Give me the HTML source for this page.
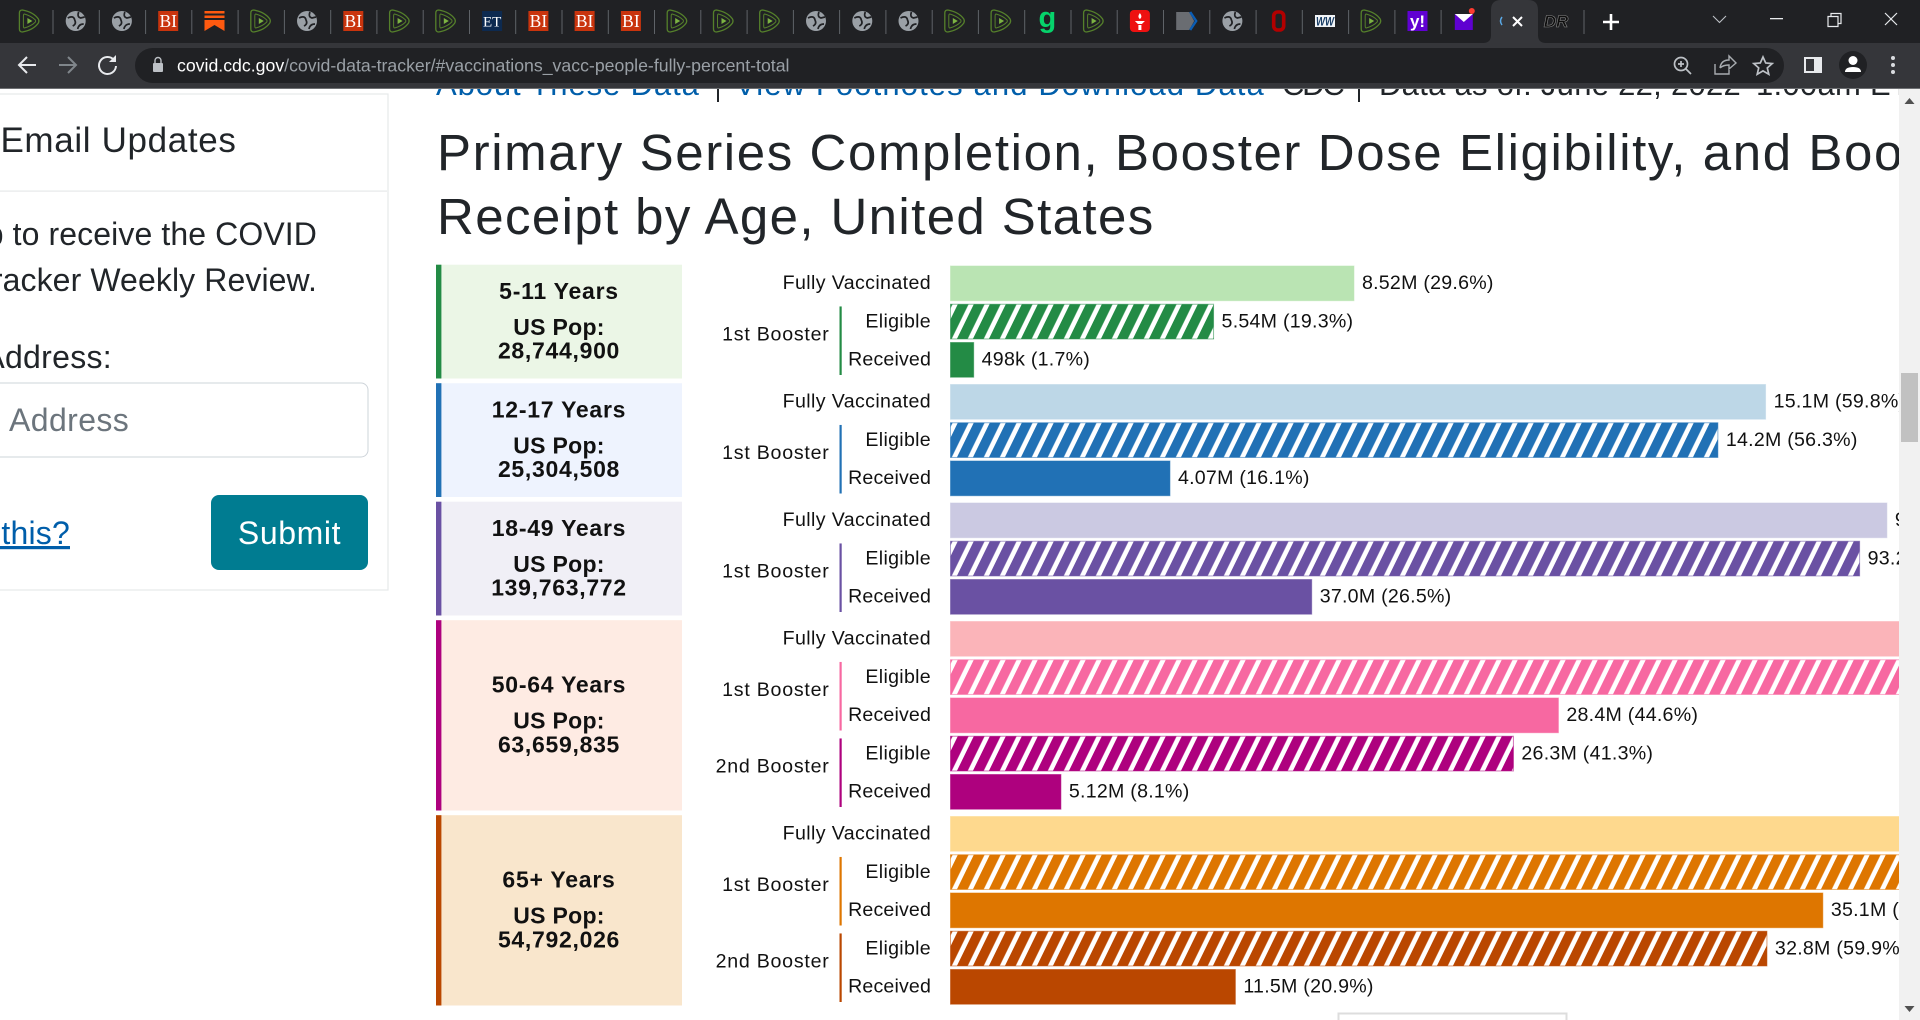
<!DOCTYPE html>
<html lang="en">
<head>
<meta charset="utf-8">
<title>Primary Series Completion, Booster Dose Eligibility, and Booster Dose Receipt by Age, United States</title>
<style>
html,body{margin:0;padding:0;background:#fff;width:1920px;height:1020px;overflow:hidden}
svg{display:block;font-family:"Liberation Sans",sans-serif}
</style>
</head>
<body>
<svg id="root" xmlns="http://www.w3.org/2000/svg" width="1920" height="1020" viewBox="0 0 1920 1020">
  <defs>
    <clipPath id="page-clip"><rect x="0" y="88" width="1899" height="932"/></clipPath>
  </defs>
  <rect x="0" y="0" width="1920" height="1020" fill="#fff"/>

  <g clip-path="url(#page-clip)">
    <g id="top-links" font-size="31">
      <text x="436" y="95" fill="#005EAA" letter-spacing="0.9">About These Data</text>
      <rect x="717" y="70" width="2" height="32" fill="#212529"/>
      <text x="735" y="95" fill="#005EAA" letter-spacing="1.12">View Footnotes and Download Data</text>
      <text x="1282" y="95" fill="#212529" letter-spacing="-2.2">CDC</text>
      <rect x="1358" y="70" width="2" height="32" fill="#212529"/>
      <text x="1379" y="95" fill="#212529" letter-spacing="0.28">Data as of: June 22, 2022</text>
      <text x="1756" y="95" fill="#212529" letter-spacing="0.28">1:00am ET</text>
    </g>

    <g>
      <rect x="-10" y="94" width="398" height="496" fill="#fff" stroke="#e6e8ea" stroke-width="1.2"/>
      <rect x="0" y="190.5" width="387" height="1.2" fill="#e6e8ea"/>
      <text x="236.5" y="152" font-size="35" text-anchor="end" fill="#212529" letter-spacing="0.65">Email Updates</text>
      <text x="317" y="245" font-size="32" text-anchor="end" fill="#212529" letter-spacing="0.1">Sign up to receive the COVID</text>
      <text x="317" y="291" font-size="32" text-anchor="end" fill="#212529" letter-spacing="0.1">Data Tracker Weekly Review.</text>
      <text x="112" y="368" font-size="32" text-anchor="end" fill="#212529" letter-spacing="0.3">Email Address:</text>
      <rect x="-20" y="383" width="388" height="74" rx="7" fill="#fff" stroke="#ced4da" stroke-width="1"/>
      <text x="9" y="431" font-size="32" fill="#6c757d" letter-spacing="0.4">Address</text>
      <text x="70" y="544" font-size="32" text-anchor="end" fill="#005EAA" letter-spacing="0.2" text-decoration="underline">Why this?</text>
      <rect x="211" y="495" width="157" height="75" rx="8" fill="#007C91"/>
      <text x="289.5" y="544" font-size="32" text-anchor="middle" fill="#fff" letter-spacing="0.6">Submit</text>
    </g>

    <text x="437" y="170" font-size="51" fill="#212529" letter-spacing="1.6">Primary Series Completion, Booster Dose Eligibility, and Booster Dose</text>
    <text x="437" y="234" font-size="51" fill="#212529" letter-spacing="1.38">Receipt by Age, United States</text>

    <g id="chart"></g>

    <rect x="1338.5" y="1013.5" width="228" height="40" fill="#fff" stroke="#ddd" stroke-width="2"/>
  </g>

  <g>
    <rect x="1899" y="88" width="21" height="932" fill="#f1f1f1"/>
    <rect x="1901" y="373" width="17" height="69" fill="#c1c1c1"/>
    <path d="M1909.5 98 l5 6 h-10 z" fill="#505050"/>
    <path d="M1909.5 1012 l5 -6 h-10 z" fill="#505050"/>
  </g>

  <g>
    <rect x="0" y="0" width="1920" height="43" fill="#202124"/>
    <rect x="0" y="43" width="1920" height="45" fill="#35363a"/>
    <rect x="0" y="88" width="1920" height="1" fill="#6e7073"/>
    <g id="tabs"></g>
    <path d="M1483 43 q8 0 8 -8 v-25 q0 -10 10 -10 h27 q10 0 10 10 v25 q0 8 8 8 z" fill="#35363a"/>
    <path d="M1502 17 q-3 4 0 8" fill="none" stroke="#5aa9e6" stroke-width="1.5"/>
    <path d="M1513 17 l9 9 M1522 17 l-9 9" stroke="#fff" stroke-width="2"/>
    <rect x="1583.5" y="10" width="1" height="24" fill="#5f6368"/>
    <path d="M1611 14 v16 M1603 22 h16" stroke="#fff" stroke-width="2.6"/>
    <path d="M1713 16 l6.5 6.5 l6.5 -6.5" fill="none" stroke="#bdc1c6" stroke-width="1.1"/>
    <rect x="1770" y="18" width="13" height="1.3" fill="#e8eaed"/>
    <path d="M1828 16.5 h10 v10 h-10 z M1831 16.5 v-3 h10 v10 h-3" fill="none" stroke="#e8eaed" stroke-width="1.2"/>
    <path d="M1885 13 l12 12 M1897 13 l-12 12" stroke="#e8eaed" stroke-width="1.2"/>

    <path d="M36 65 h-16 M27 57 l-8 8 l8 8" fill="none" stroke="#e8eaed" stroke-width="2"/>
    <path d="M59 65 h16 M68 57 l8 8 l-8 8" fill="none" stroke="#80868b" stroke-width="2"/>
    <path d="M114 60 a8.5 8.5 0 1 0 2 6" fill="none" stroke="#e8eaed" stroke-width="2"/>
    <path d="M116 55 v7 h-7 z" fill="#e8eaed"/>
    <rect x="135" y="48" width="1649" height="35" rx="17.5" fill="#202124"/>
    <rect x="153" y="63" width="10" height="9" rx="1" fill="#bdc1c6"/>
    <path d="M155 63 v-2.5 a3 3 0 0 1 6 0 v2.5" fill="none" stroke="#bdc1c6" stroke-width="1.4"/>
    <text x="177" y="71.5" font-size="17.7" fill="#9aa0a6"><tspan fill="#fff">covid.cdc.gov</tspan>/covid-data-tracker/#vaccinations_vacc-people-fully-percent-total</text>

    <circle cx="1681" cy="64" r="6.5" fill="none" stroke="#bdc1c6" stroke-width="1.7"/>
    <path d="M1686 69 l5 5 M1678 64 h6 M1681 61 v6" stroke="#bdc1c6" stroke-width="1.7"/>
    <path d="M1715 64 v10 h14 v-4 M1720 68 q1 -8 9 -8 v-4 l7 7 l-7 6 v-4 q-6 0 -9 3" fill="none" stroke="#a8acb0" stroke-width="1.4"/>
    <path d="M1763 57 l2.7 6 l6.5 .6 l-4.9 4.3 l1.5 6.4 l-5.8 -3.4 l-5.8 3.4 l1.5 -6.4 l-4.9 -4.3 l6.5 -.6 z" fill="none" stroke="#bdc1c6" stroke-width="1.7"/>
    <rect x="1804" y="57" width="18" height="16" fill="#e8eaed"/>
    <rect x="1806" y="59" width="8" height="12" fill="#35363a"/>
    <circle cx="1853" cy="65" r="14" fill="#202124"/>
    <circle cx="1853" cy="60.5" r="4.5" fill="#fff"/>
    <path d="M1845 72 q0 -5 8 -5 q8 0 8 5 z" fill="#fff"/>
    <g fill="#dadce0">
      <circle cx="1893" cy="58" r="2"/><circle cx="1893" cy="65" r="2"/><circle cx="1893" cy="72" r="2"/>
    </g>
  </g>
</svg>

<script>
/* ---------- chart data ---------- */
const ageGroups = ['5-11 Years', '12-17 Years', '18-49 Years', '50-64 Years', '65+ Years'];
const populations = ['28,744,900', '25,304,508', '139,763,772', '63,659,835', '54,792,026'];

const fullyVaccinatedPct = [29.6, 59.8, 68.7, 82.6, 89.3];
const fullyVaccinatedCount = ['8.52M', '15.1M', '96.0M', '52.6M', '48.9M'];

const booster1EligiblePct = [19.3, 56.3, 66.7, 79.5, 85.2];
const booster1EligibleCount = ['5.54M', '14.2M', '93.2M', '50.6M', '46.7M'];

const booster1ReceivedPct = [1.7, 16.1, 26.5, 44.6, 64.0];
const booster1ReceivedCount = ['498k', '4.07M', '37.0M', '28.4M', '35.1M'];

const booster2EligiblePct = [null, null, null, 41.3, 59.9];
const booster2EligibleCount = [null, null, null, '26.3M', '32.8M'];

const booster2ReceivedPct = [null, null, null, 8.1, 20.9];
const booster2ReceivedCount = [null, null, null, '5.12M', '11.5M'];

const tabIconKinds = ['play','globe','globe','bi','ribbon','play','globe','bi','play','play','et','bi','bi','bi','play','play','play','globe','globe','globe','play','play','g','play','torch','shield','globe','o','ww','play','yahoo','mail'];

/* ---------- appearance ---------- */
const panelFills = ['#EBF6E6', '#EEF3FE', '#F0EFF6', '#FEEBE3', '#F9E6CC'];
const sideColors = ['#238B45', '#2171B5', '#6A51A3', '#AE017E', '#BA4700'];
const lightColors = ['#BAE4B3', '#BDD7E7', '#CBC9E2', '#FBB4B9', '#FED98E'];
const booster1Colors = ['#238B45', '#2171B5', '#6A51A3', '#F768A1', '#DE7600'];
const booster2Colors = ['#238B45', '#2171B5', '#6A51A3', '#AE017E', '#BA4700'];

const SVG_NS = 'http://www.w3.org/2000/svg';
const chart = document.getElementById('chart');
const defs = document.querySelector('#root defs');

/* ---------- axis functions ---------- */
const BAR_ZERO_X = 950.5;
const PX_PER_PERCENT = 13.63;
const FIRST_ROW_Y = 266;
const ROW_STEP = 38.25;
const GROUP_EXTRA = 3.75;
const BAR_HEIGHT = 34.7;
function xScale(pct) { return BAR_ZERO_X + pct * PX_PER_PERCENT; }
function rowTop(rowsBefore, groupsBefore) { return FIRST_ROW_Y + rowsBefore * ROW_STEP + groupsBefore * GROUP_EXTRA; }

function mk(tag, attrs, parent) {
  const el = document.createElementNS(SVG_NS, tag);
  for (const k in attrs) el.setAttribute(k, attrs[k]);
  (parent || chart).appendChild(el);
  return el;
}
function hatchFor(color, id, barTop) {
  const p = mk('pattern', { id: id, patternUnits: 'userSpaceOnUse', width: 16, height: 12, patternTransform: 'translate(957.8 ' + barTop + ') skewX(-26)' }, defs);
  mk('rect', { x: 0, y: 0, width: 16, height: 12, fill: '#fff' }, p);
  mk('rect', { x: 0, y: 0, width: 10.8, height: 12, fill: color }, p);
  return 'url(#' + id + ')';
}
function label(str, x, y, anchor, ls, name, size, weight, parent) {
  const t = mk('text', { x: x, y: y, 'text-anchor': anchor, 'font-size': size || 19.6, 'letter-spacing': ls, fill: '#111' }, parent);
  if (weight) t.setAttribute('font-weight', weight);
  
  
  t.textContent = str;
  return t;
}
function drawBar(pct, count, y, fill, edge, rowName, rowText, labelSpacing, slug) {
  const bar = mk('rect', { x: xScale(0), y: y, width: xScale(pct) - xScale(0), height: BAR_HEIGHT, fill: fill, stroke: edge, 'stroke-width': 1, 'stroke-opacity': 0.55 });
  
  
  label(rowText, 931, y + 23.1, 'end', labelSpacing, 'row-label-' + slug + '-' + rowName);
  label(count + ' (' + pct.toFixed(1) + '%)', xScale(pct) + 8, y + 23.1, 'start', 0.25, 'value-label-' + slug + '-' + rowName);
}
function drawBoosterGroup(title, y, color, slug, rowBase) {
  const bottom = y + ROW_STEP + BAR_HEIGHT;
  const rule = mk('rect', { x: 839.5, y: y + 2.2, width: 2.2, height: bottom - y - 4.4, fill: color });
  
  
  label(title, 829.5, (y + bottom) / 2 - 0.3, 'end', 0.75, 'group-label-' + slug + '-' + rowBase);
}

/* ---------- draw chart ---------- */
let rowsBefore = 0;
ageGroups.forEach(function (group, g) {
  const slug = group.split(' ')[0].replace('+', '-plus');
  const hasSecond = booster2EligiblePct[g] !== null;
  const rowCount = hasSecond ? 5 : 3;
  const top = rowTop(rowsBefore, g);
  const lastBottom = rowTop(rowsBefore + rowCount - 1, g) + BAR_HEIGHT;
  const panelTop = top - 1.3;
  const panelBottom = lastBottom + 1.3;
  const mid = (panelTop + panelBottom) / 2;

  const panel = mk('rect', { x: 436, y: panelTop, width: 246, height: panelBottom - panelTop, fill: panelFills[g] });
  
  
  const side = mk('rect', { x: 436, y: panelTop, width: 5.4, height: panelBottom - panelTop, fill: sideColors[g] });
  
  
  label(group, 559, mid - 22.8, 'middle', 0.75, 'age-title-' + slug, 23, 'bold');
  label('US Pop:', 559, mid + 13.3, 'middle', 0.3, 'pop-label-' + slug, 23, 'bold');
  label(populations[g], 559, mid + 37, 'middle', 0.7, 'pop-value-' + slug, 23, 'bold');

  drawBar(fullyVaccinatedPct[g], fullyVaccinatedCount[g], top, lightColors[g], lightColors[g], 'fully-vaccinated', 'Fully Vaccinated', 0.38, slug);

  const b1y = rowTop(rowsBefore + 1, g);
  drawBar(booster1EligiblePct[g], booster1EligibleCount[g], b1y, hatchFor(booster1Colors[g], 'hatch-b1-' + g, b1y), booster1Colors[g], 'booster1-eligible', 'Eligible', 0.3, slug);
  drawBar(booster1ReceivedPct[g], booster1ReceivedCount[g], rowTop(rowsBefore + 2, g), booster1Colors[g], booster1Colors[g], 'booster1-received', 'Received', 0.15, slug);
  drawBoosterGroup('1st Booster', b1y, booster1Colors[g], slug, 'booster1');

  if (hasSecond) {
    const b2y = rowTop(rowsBefore + 3, g);
    drawBar(booster2EligiblePct[g], booster2EligibleCount[g], b2y, hatchFor(booster2Colors[g], 'hatch-b2-' + g, b2y), booster2Colors[g], 'booster2-eligible', 'Eligible', 0.3, slug);
    drawBar(booster2ReceivedPct[g], booster2ReceivedCount[g], rowTop(rowsBefore + 4, g), booster2Colors[g], booster2Colors[g], 'booster2-received', 'Received', 0.15, slug);
    drawBoosterGroup('2nd Booster', b2y, booster2Colors[g], slug, 'booster2');
  }
  rowsBefore += rowCount;
});

/* ---------- tab strip icons ---------- */
const tabs = document.getElementById('tabs');
const TAB_X0 = 29.4;
const TAB_STEP = 46.27;
function tabText(str, attrs, parent) {
  const t = mk('text', Object.assign({ 'text-anchor': 'middle' }, attrs), parent);
  t.textContent = str;
  return t;
}
function drawIcon(kind, g) {
  if (kind === 'play') {
    mk('path', { d: 'M-7 -11 Q-10 -11 -10 -8 L-10 8 Q-10 11 -7 11 Q4 9 9 2 Q10 0 9 -2 Q4 -9 -7 -11 Z', fill: 'none', stroke: '#55802b', 'stroke-width': 1.3 }, g);
    mk('path', { d: 'M-5 -7 Q-6 -7 -6 -5 L-6 5 Q-6 7 -5 7 Q2 5 6 1 Q6.5 0 6 -1 Q2 -5 -5 -7 Z', fill: 'none', stroke: '#55802b', 'stroke-width': 1 }, g);
    mk('path', { d: 'M-2 -3 L3 0 L-2 3 Z', fill: '#7cb342' }, g);
  } else if (kind === 'globe') {
    mk('circle', { r: 10, fill: '#9aa0a6' }, g);
    mk('path', { d: 'M-8 -3 Q-2 -6 -1 -1 Q1 3 -3 5 M3 -9 Q1 -4 5 -3 L9 -4 M2 8 Q3 3 8 3', fill: 'none', stroke: '#202124', 'stroke-width': 1.7 }, g);
  } else if (kind === 'bi') {
    mk('rect', { x: -10, y: -10, width: 20, height: 20, fill: '#c9340d' }, g);
    tabText('BI', { y: 6, 'font-size': 17.5, 'font-family': '"Liberation Serif",serif', fill: '#fff' }, g);
  } else if (kind === 'ribbon') {
    mk('rect', { x: -10, y: -10, width: 20, height: 2.5, fill: '#ff5a10' }, g);
    mk('rect', { x: -10, y: -5.5, width: 20, height: 2.5, fill: '#ff5a10' }, g);
    mk('path', { d: 'M-10 -1 H10 V10 L0 4 L-10 10 Z', fill: '#ff5a10' }, g);
  } else if (kind === 'et') {
    mk('rect', { x: -10, y: -10, width: 20, height: 20, fill: '#0d2a50' }, g);
    tabText('ET', { y: 5.5, 'font-size': 15, 'font-family': '"Liberation Serif",serif', fill: '#fff' }, g);
  } else if (kind === 'g') {
    tabText('g', { y: 6, 'font-size': 29, 'font-weight': 'bold', fill: '#06d36b' }, g);
  } else if (kind === 'torch') {
    mk('rect', { x: -10, y: -11, width: 20, height: 22, rx: 4, fill: '#ee1111' }, g);
    mk('path', { d: 'M0 -8 Q3 -4 0 -2 Q-3 -4 0 -8 Z M-5 0 H5 L2 3 H-2 Z M-1.5 4 H1.5 V9 H-1.5 Z', fill: '#fff' }, g);
  } else if (kind === 'shield') {
    mk('path', { d: 'M-10 -9 H3 L8 0 L3 9 H-10 Z', fill: '#6a6d72' }, g);
    mk('path', { d: 'M4 -9 L10 0 L4 9', fill: 'none', stroke: '#0a5db5', 'stroke-width': 2.4 }, g);
  } else if (kind === 'o') {
    mk('rect', { x: -5, y: -9, width: 10, height: 18, rx: 4, fill: 'none', stroke: '#b30000', 'stroke-width': 3.6 }, g);
  } else if (kind === 'ww') {
    mk('rect', { x: -10, y: -6, width: 20, height: 12, fill: '#f2f5f8' }, g);
    tabText('WW', { y: 4.5, 'font-size': 12, 'font-weight': 'bold', 'font-style': 'italic', fill: '#1b3f66', textLength: 18, lengthAdjust: 'spacingAndGlyphs' }, g);
  } else if (kind === 'yahoo') {
    mk('rect', { x: -10, y: -10, width: 20, height: 20, fill: '#6001d2' }, g);
    tabText('y!', { y: 6, 'font-size': 17, 'font-weight': 'bold', fill: '#fff' }, g);
  } else if (kind === 'mail') {
    mk('rect', { x: -9, y: -7, width: 18, height: 16, fill: '#5f01d1' }, g);
    mk('path', { d: 'M-9 -7 H9 L0 1 Z', fill: '#fff' }, g);
    mk('circle', { cx: 8, cy: -10, r: 3, fill: '#ff3b30' }, g);
  }
}
tabIconKinds.forEach(function (kind, i) {
  const cx = TAB_X0 + i * TAB_STEP;
  const g = mk('g', { transform: 'translate(' + cx.toFixed(1) + ' 21)' }, tabs);
  
  
  drawIcon(kind, g);
  if (i < tabIconKinds.length - 1) {
    const sep = mk('rect', { x: (cx + TAB_STEP / 2).toFixed(1), y: 10, width: 1, height: 24, fill: '#5f6368' }, tabs);
    
    
  }
});
const lastTab = mk('g', { transform: 'translate(1556 21)' }, tabs);


tabText('DR', { y: 6, 'font-size': 17, 'font-weight': 'bold', 'font-style': 'italic', fill: '#0d0d0d', stroke: '#888', 'stroke-width': 0.6 }, lastTab);
</script>
</body>
</html>
